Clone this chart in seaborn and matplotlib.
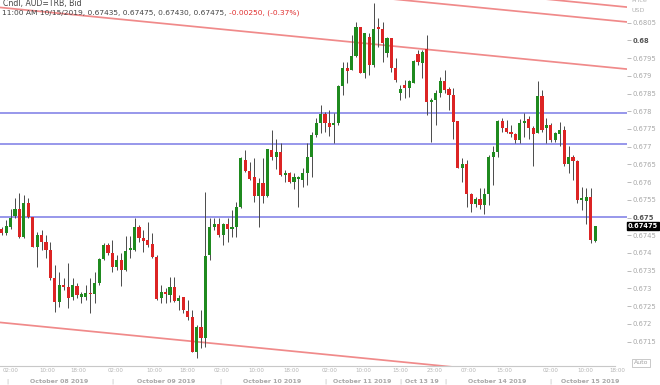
import numpy as np
import pandas as pd
import matplotlib
matplotlib.use("Agg")
import matplotlib.pyplot as plt
import matplotlib.transforms as mtransforms
import seaborn as sns

# ---------------- data (AUD=TRB hourly candles) ----------------
opens = [0.67468, 0.67457, 0.67474, 0.67505, 0.67525, 0.67446, 0.67541, 0.67502, 0.67417, 0.67451,
         0.67432, 0.67409, 0.67330, 0.67262, 0.67310, 0.67305, 0.67276, 0.67308, 0.67276, 0.67276,
         0.67288, 0.67285, 0.67316, 0.67384, 0.67423, 0.67401, 0.67361, 0.67381, 0.67353, 0.67409,
         0.67409, 0.67474, 0.67443, 0.67437, 0.67426, 0.67389, 0.67274, 0.67291, 0.67282, 0.67305,
         0.67265, 0.67276, 0.67237, 0.67220, 0.67121, 0.67192, 0.67161, 0.67395, 0.67474, 0.67482,
         0.67451, 0.67482, 0.67468, 0.67474, 0.67530, 0.67663, 0.67632, 0.67615, 0.67561, 0.67598,
         0.67561, 0.67691, 0.67671, 0.67685, 0.67621, 0.67626, 0.67601, 0.67609, 0.67606, 0.67626,
         0.67671, 0.67733, 0.67767, 0.67792, 0.67767, 0.67761, 0.67767, 0.67871, 0.67922, 0.67917,
         0.67956, 0.68038, 0.67908, 0.68010, 0.67931, 0.68038, 0.68032, 0.67964, 0.68007, 0.67922,
         0.67852, 0.67874, 0.67866, 0.67880, 0.67962, 0.67936, 0.67976, 0.67826, 0.67832, 0.67852,
         0.67886, 0.67863, 0.67846, 0.67773, 0.67640, 0.67652, 0.67567, 0.67539, 0.67553, 0.67536,
         0.67567, 0.67671, 0.67685, 0.67773, 0.67753, 0.67742, 0.67736, 0.67719, 0.67767, 0.67778,
         0.67753, 0.67739, 0.67843, 0.67753, 0.67761, 0.67719, 0.67736, 0.67747, 0.67652, 0.67671,
         0.67660, 0.67550, 0.67547, 0.67558, 0.67435]
highs = [0.67474, 0.67494, 0.67525, 0.67556, 0.67570, 0.67564, 0.67556, 0.67502, 0.67460, 0.67465,
         0.67451, 0.67432, 0.67367, 0.67347, 0.67330, 0.67372, 0.67330, 0.67316, 0.67291, 0.67310,
         0.67330, 0.67347, 0.67386, 0.67429, 0.67429, 0.67437, 0.67395, 0.67401, 0.67448, 0.67448,
         0.67499, 0.67480, 0.67465, 0.67488, 0.67457, 0.67395, 0.67310, 0.67302, 0.67333, 0.67333,
         0.67282, 0.67276, 0.67268, 0.67240, 0.67197, 0.67240, 0.67573, 0.67499, 0.67499, 0.67499,
         0.67485, 0.67499, 0.67522, 0.67544, 0.67671, 0.67691, 0.67657, 0.67668, 0.67612, 0.67668,
         0.67694, 0.67747, 0.67722, 0.67711, 0.67635, 0.67629, 0.67626, 0.67618, 0.67640, 0.67711,
         0.67742, 0.67781, 0.67818, 0.67798, 0.67804, 0.67795, 0.67874, 0.67939, 0.67939, 0.68015,
         0.68052, 0.68038, 0.68021, 0.68021, 0.68106, 0.68063, 0.68052, 0.68010, 0.68007, 0.67950,
         0.67874, 0.67888, 0.67888, 0.67945, 0.67973, 0.67973, 0.68015, 0.67838, 0.67860, 0.67897,
         0.67917, 0.67869, 0.67866, 0.67773, 0.67668, 0.67663, 0.67570, 0.67558, 0.67584, 0.67584,
         0.67677, 0.67702, 0.67776, 0.67781, 0.67776, 0.67761, 0.67739, 0.67778, 0.67795, 0.67787,
         0.67759, 0.67886, 0.67860, 0.67781, 0.67767, 0.67742, 0.67770, 0.67759, 0.67702, 0.67677,
         0.67663, 0.67587, 0.67584, 0.67584, 0.67475]
lows = [0.67451, 0.67451, 0.67468, 0.67499, 0.67443, 0.67443, 0.67499, 0.67417, 0.67361, 0.67409,
        0.67386, 0.67324, 0.67234, 0.67248, 0.67296, 0.67245, 0.67268, 0.67274, 0.67260, 0.67268,
        0.67231, 0.67260, 0.67310, 0.67381, 0.67395, 0.67347, 0.67353, 0.67308, 0.67350, 0.67386,
        0.67406, 0.67432, 0.67403, 0.67417, 0.67386, 0.67268, 0.67260, 0.67260, 0.67262, 0.67262,
        0.67240, 0.67231, 0.67212, 0.67121, 0.67104, 0.67133, 0.67135, 0.67381, 0.67465, 0.67446,
        0.67423, 0.67432, 0.67446, 0.67446, 0.67527, 0.67629, 0.67606, 0.67544, 0.67474, 0.67541,
        0.67558, 0.67663, 0.67637, 0.67618, 0.67601, 0.67598, 0.67581, 0.67530, 0.67587, 0.67592,
        0.67615, 0.67728, 0.67739, 0.67742, 0.67730, 0.67711, 0.67761, 0.67846, 0.67880, 0.67917,
        0.67953, 0.67908, 0.67894, 0.67902, 0.67925, 0.67981, 0.67939, 0.67953, 0.67911, 0.67883,
        0.67832, 0.67838, 0.67840, 0.67880, 0.67931, 0.67894, 0.67790, 0.67714, 0.67761, 0.67840,
        0.67852, 0.67804, 0.67722, 0.67640, 0.67601, 0.67530, 0.67516, 0.67530, 0.67525, 0.67510,
        0.67536, 0.67592, 0.67671, 0.67742, 0.67739, 0.67728, 0.67711, 0.67711, 0.67728, 0.67722,
        0.67646, 0.67739, 0.67742, 0.67711, 0.67714, 0.67714, 0.67702, 0.67646, 0.67626, 0.67606,
        0.67541, 0.67522, 0.67482, 0.67429, 0.67430]
closes = [0.67457, 0.67477, 0.67499, 0.67525, 0.67446, 0.67541, 0.67502, 0.67417, 0.67451, 0.67432,
          0.67409, 0.67330, 0.67262, 0.67310, 0.67305, 0.67274, 0.67310, 0.67282, 0.67285, 0.67288,
          0.67285, 0.67316, 0.67384, 0.67423, 0.67401, 0.67361, 0.67381, 0.67353, 0.67406, 0.67415,
          0.67474, 0.67443, 0.67434, 0.67423, 0.67389, 0.67271, 0.67291, 0.67285, 0.67305, 0.67265,
          0.67274, 0.67240, 0.67220, 0.67121, 0.67192, 0.67161, 0.67392, 0.67474, 0.67482, 0.67451,
          0.67482, 0.67468, 0.67474, 0.67530, 0.67668, 0.67632, 0.67609, 0.67561, 0.67598, 0.67561,
          0.67694, 0.67671, 0.67685, 0.67621, 0.67626, 0.67601, 0.67615, 0.67615, 0.67626, 0.67671,
          0.67733, 0.67767, 0.67792, 0.67767, 0.67756, 0.67767, 0.67871, 0.67922, 0.67914, 0.67956,
          0.68038, 0.67908, 0.68021, 0.67931, 0.68032, 0.68032, 0.67993, 0.68007, 0.67922, 0.67888,
          0.67863, 0.67866, 0.67886, 0.67942, 0.67939, 0.67967, 0.67826, 0.67832, 0.67852, 0.67886,
          0.67860, 0.67846, 0.67770, 0.67640, 0.67652, 0.67567, 0.67539, 0.67553, 0.67536, 0.67567,
          0.67671, 0.67685, 0.67773, 0.67753, 0.67742, 0.67736, 0.67719, 0.67767, 0.67773, 0.67753,
          0.67736, 0.67843, 0.67747, 0.67761, 0.67719, 0.67739, 0.67747, 0.67652, 0.67671, 0.67660,
          0.67550, 0.67556, 0.67558, 0.67437, 0.67475]

# support / resistance levels (blue) and trend channel lines (red)
h_levels = [0.67796, 0.67707, 0.67501]
trend_x = [-0.4, 141.2]
trend_lower = [0.67204, 0.67030]
trend_mid = [0.68093, 0.67919]
trend_up1 = [0.68225, 0.68052]
trend_up2 = [0.68268, 0.68094]

# axis labelling
time_tick_pos = [1.9, 10.2, 17.4, 25.8, 34.4, 41.8, 49.7, 57.6, 65.5, 74.1, 81.6, 89.9,
                 97.8, 105.5, 113.6, 124.0, 131.7, 138.9]
time_tick_labels = ["02:00", "10:00", "18:00", "02:00", "10:00", "18:00", "02:00", "10:00",
                    "18:00", "02:00", "10:00", "15:00", "23:00", "07:00", "15:00", "02:00",
                    "10:00", "18:00"]
date_labels = ["October 08 2019", "October 09 2019", "October 10 2019", "October 11 2019",
               "Oct 13 19", "October 14 2019", "October 15 2019"]
date_label_pos = [12.9, 37.1, 61.0, 81.3, 94.9, 111.8, 132.8]
date_sep_pos = [1.2, 24.9, 49.3, 73.0, 89.9, 100.1, 123.8]
y_ticks = [0.6715, 0.672, 0.6725, 0.673, 0.6735, 0.674, 0.6745, 0.675, 0.6755, 0.676,
           0.6765, 0.677, 0.6775, 0.678, 0.6785, 0.679, 0.6795, 0.68, 0.6805]
last_price = 0.67475

header1 = "Cndl, AUD=TRB, Bid"
header2a = "11:00 AM 10/15/2019, 0.67435, 0.67475, 0.67430, 0.67475, "
header2b = "-0.00250, (-0.37%)"

# ---------------- drawing ----------------
sns.set_theme(style="white")
plt.rcParams['font.family'] = ['DejaVu Sans']

df = pd.DataFrame({"o": opens, "h": highs, "l": lows, "c": closes})
df["i"] = np.arange(len(df))
df["up"] = df["c"] >= df["o"]

GREEN = "#1f8a1f"
RED = "#dc2424"
WICK = "#4a4a4a"

fig = plt.figure(figsize=(6.6, 3.85), dpi=100)
ax = fig.add_axes([0.0, 19 / 385, 627 / 660, 366 / 385])

# trend lines
red_line = "#f08a8a"
for tl in (trend_lower, trend_mid, trend_up1, trend_up2):
    sns.lineplot(x=trend_x, y=tl, ax=ax, color=red_line, linewidth=1.25, zorder=1)
for lv in h_levels:
    ax.axhline(lv, color="#8a8ae8", linewidth=1.25, zorder=1)

# candles
ax.vlines(df["i"], df["l"], df["h"], color=WICK, linewidth=0.7, zorder=2)
bottoms = np.minimum(df["o"], df["c"])
heights = np.maximum(np.abs(df["c"] - df["o"]), 0.000025)
ax.bar(df["i"], heights, bottom=bottoms, width=0.72,
       color=np.where(df["up"], GREEN, RED), linewidth=0, zorder=3)

ax.set_xlim(-0.38, 141.2)
ax.set_ylim(0.67081, 0.68114)

for s in ("top", "left", "right"):
    ax.spines[s].set_visible(False)
ax.spines["bottom"].set_color("#c8c8c8")
ax.spines["bottom"].set_linewidth(0.8)
ax.spines["bottom"].set_bounds(-0.38, 138.5)

# y axis on the right
ax.yaxis.tick_right()
ax.set_yticks(y_ticks)
ylabels = [("%.4f" % v).rstrip("0") for v in y_ticks]
ax.set_yticklabels(ylabels)
ax.tick_params(axis="y", which="both", right=True, length=3, width=0.6, color="#b0b0b0",
               pad=1, labelsize=4.9, labelcolor="#a8a8a8")
for t, v in zip(ax.get_yticklabels(), y_ticks):
    if abs(v - 0.68) < 1e-9 or abs(v - 0.675) < 1e-9:
        t.set_color("#555555")
        t.set_fontweight("bold")

# x axis
ax.set_xticks(time_tick_pos)
ax.set_xticklabels(time_tick_labels)
ax.tick_params(axis="x", length=0, pad=1.5, labelsize=4.0, labelcolor="#b4b4b4")

trans_x = mtransforms.blended_transform_factory(ax.transData, ax.transAxes)
for lab, p in zip(date_labels, date_label_pos):
    ax.text(p, -0.041, lab, transform=trans_x, ha="center", va="center", fontsize=4.5,
            color="#a8a8a8", fontweight="bold", clip_on=False)
for p in date_sep_pos:
    ax.text(p, -0.041, "|", transform=trans_x, ha="center", va="center", fontsize=4.5,
            color="#b4b4b4", clip_on=False)

# last price box
trans_y = mtransforms.blended_transform_factory(ax.transAxes, ax.transData)
ax.text(1.001, last_price, "%.5f" % last_price, transform=trans_y, ha="left", va="center",
        fontsize=4.8, color="white", fontweight="bold", clip_on=False,
        bbox=dict(boxstyle="square,pad=0.15", fc="black", ec="black"))

# header
t1 = ax.text(0.005, 0.991, header1, transform=ax.transAxes, ha="left", va="center",
             fontsize=5.6, color="#444444")
t2 = ax.text(0.003, 0.965, header2a, transform=ax.transAxes, ha="left", va="center",
             fontsize=5.4, color="#444444")
ax.annotate(header2b, xy=(1, 0.5), xycoords=t2, ha="left", va="center",
            fontsize=5.4, color="#e03030")

# price caption and auto button
fig.text(631 / 660, 1 - 1 / 385, "Price", ha="left", va="center", fontsize=4.6, color="#b4b4b4")
fig.text(631 / 660, 1 - 10 / 385, "USD", ha="left", va="center", fontsize=4.6, color="#b4b4b4")
fig.text(641 / 660, 1 - 363 / 385, "Auto", ha="center", va="center", fontsize=4.4, color="#a0a0a0",
         bbox=dict(boxstyle="square,pad=0.25", fc="white", ec="#c0c0c0", lw=0.6))

fig.savefig("out.png", dpi=100, facecolor="white")
